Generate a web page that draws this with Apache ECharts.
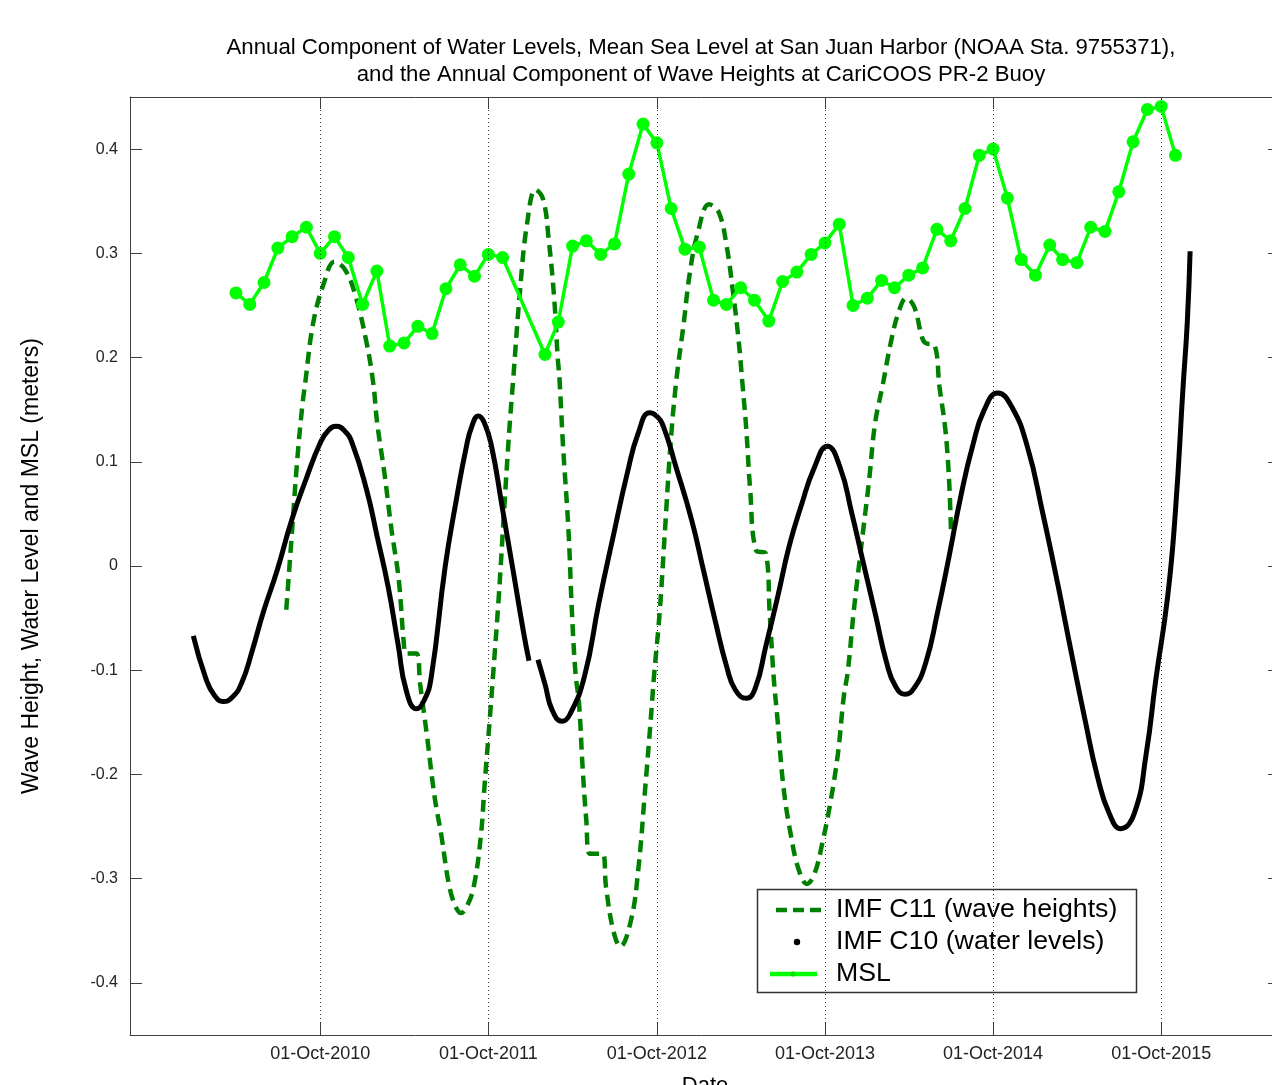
<!DOCTYPE html>
<html>
<head>
<meta charset="utf-8">
<script src="https://cdn.jsdelivr.net/npm/echarts@6/dist/echarts.min.js"></script>
<style>
html,body{margin:0;padding:0;background:#fff;}
#chart{width:1272px;height:1085px;}
</style>
</head>
<body>
<div id="chart"></div>
<script>
// ---------------- DATA ----------------
const titleLines = [
  'Annual Component of Water Levels, Mean Sea Level at San Juan Harbor (NOAA Sta. 9755371),',
  'and the Annual Component of Wave Heights at CariCOOS PR-2 Buoy'
];
const xAxisName = 'Date';
const yAxisName = 'Wave Height, Water Level and MSL (meters)';
const xRange = ['2009-08-14', '2016-06-15'];
const xTickDates = ['2010-10-01', '2011-10-01', '2012-10-01', '2013-10-01', '2014-10-01', '2015-10-01'];
const yTicks = [-0.4, -0.3, -0.2, -0.1, 0, 0.1, 0.2, 0.3, 0.4];
const yRange = [-0.45, 0.45];
const seriesNames = ['IMF C11 (wave heights)', 'IMF C10 (water levels)', 'MSL'];

// MSL (monthly)
const mslDates = [
  '2010-04-01','2010-05-01','2010-06-01','2010-07-01','2010-08-01','2010-09-01','2010-10-01','2010-11-01','2010-12-01',
  '2011-01-01','2011-02-01','2011-03-01','2011-04-01','2011-05-01','2011-06-01','2011-07-01','2011-08-01','2011-09-01','2011-10-01','2011-11-01',
  '2012-02-01','2012-03-01','2012-04-01','2012-05-01','2012-06-01','2012-07-01','2012-08-01','2012-09-01','2012-10-01','2012-11-01','2012-12-01',
  '2013-01-01','2013-02-01','2013-03-01','2013-04-01','2013-05-01','2013-06-01','2013-07-01','2013-08-01','2013-09-01','2013-10-01','2013-11-01','2013-12-01',
  '2014-01-01','2014-02-01','2014-03-01','2014-04-01','2014-05-01','2014-06-01','2014-07-01','2014-08-01','2014-09-01','2014-10-01','2014-11-01','2014-12-01',
  '2015-01-01','2015-02-01','2015-03-01','2015-04-01','2015-05-01','2015-06-01','2015-07-01','2015-08-01','2015-09-01','2015-10-01','2015-11-01'
];
const mslValues = [
  0.262,0.251,0.272,0.305,0.316,0.325,0.300,0.316,0.296,
  0.251,0.283,0.211,0.214,0.230,0.223,0.266,0.289,0.278,0.299,0.296,
  0.203,0.234,0.307,0.312,0.299,0.309,0.376,0.424,0.406,0.343,0.304,
  0.306,0.255,0.251,0.267,0.255,0.235,0.273,0.282,0.299,0.310,0.328,0.250,
  0.257,0.274,0.267,0.279,0.286,0.323,0.312,0.343,0.394,0.400,0.353,0.294,
  0.279,0.308,0.294,0.291,0.325,0.321,0.359,0.407,0.438,0.441,0.394
];

// IMF C10 (water levels) - decimal years
const c10Years = [
  2009.993,2010.068,2010.118,2010.171,2010.225,2010.281,2010.344,2010.408,2010.492,2010.578,
  2010.663,2010.748,2010.796,2010.843,2010.891,2010.938,2011.024,2011.087,2011.152,2011.212,
  2011.259,2011.321,2011.366,2011.408,2011.491,2011.555,2011.618,2011.652,2011.688,2011.723,
  2011.767,2011.830,2011.895,2011.958,2011.990,2012.017,2012.043,2012.086,2012.127,2012.186,
  2012.234,2012.319,2012.404,2012.489,2012.573,2012.639,2012.706,2012.746,2012.787,2012.862,
  2012.955,2013.025,2013.094,2013.164,2013.215,2013.280,2013.334,2013.396,2013.466,2013.535,
  2013.605,2013.686,2013.762,2013.837,2013.907,2013.976,2014.046,2014.115,2014.166,2014.224,
  2014.279,2014.347,2014.417,2014.486,2014.556,2014.626,2014.696,2014.776,2014.858,2014.951,
  2015.043,2015.136,2015.206,2015.298,2015.369,2015.438,2015.508,2015.589,2015.659,2015.716,
  2015.786,2015.832,2015.879,2015.903,2015.920
];
const c10Values = [
  -0.067,-0.108,-0.124,-0.130,-0.126,-0.112,-0.081,-0.045,-0.004,0.044,
  0.083,0.118,0.130,0.134,0.130,0.118,0.073,0.028,-0.020,-0.076,
  -0.119,-0.137,-0.129,-0.107,-0.001,0.061,0.115,0.135,0.144,0.138,
  0.115,0.057,-0.004,-0.064,-0.091,null,-0.090,-0.114,-0.138,-0.149,
  -0.142,-0.106,-0.036,0.028,0.089,0.128,0.147,0.144,0.134,0.095,
  0.044,-0.004,-0.052,-0.097,-0.119,-0.127,-0.117,-0.077,-0.030,0.019,
  0.057,0.095,0.115,0.095,0.051,0.003,-0.045,-0.093,-0.115,-0.123,
  -0.117,-0.093,-0.045,0.009,0.067,0.115,0.150,0.166,0.153,0.115,
  0.051,-0.020,-0.077,-0.150,-0.202,-0.237,-0.252,-0.237,-0.180,-0.109,
  -0.030,0.051,0.174,0.233,0.302
];

// IMF C11 (wave heights) - decimal years
const c11Years = [
  2010.546,2010.578,2010.610,2010.641,2010.659,2010.706,2010.769,2010.833,2010.897,2010.960,
  2011.024,2011.063,2011.087,2011.130,2011.172,2011.215,2011.247,2011.259,2011.319,2011.342,
  2011.384,2011.428,2011.470,2011.513,2011.551,2011.586,2011.622,2011.661,2011.703,2011.725,
  2011.756,2011.778,2011.810,2011.841,2011.873,2011.895,2011.937,2011.979,2012.029,2012.075,
  2012.107,2012.139,2012.160,2012.171,2012.192,2012.224,2012.245,2012.266,2012.287,2012.309,
  2012.330,2012.351,2012.425,2012.447,2012.489,2012.532,2012.595,2012.638,2012.680,2012.712,
  2012.733,2012.765,2012.797,2012.829,2012.862,2012.908,2012.944,2012.990,2013.059,2013.117,
  2013.164,2013.199,2013.234,2013.257,2013.280,2013.303,2013.338,2013.396,2013.419,2013.442,
  2013.466,2013.501,2013.547,2013.593,2013.640,2013.686,2013.732,2013.779,2013.825,2013.860,
  2013.884,2013.918,2013.964,2014.011,2014.046,2014.092,2014.139,2014.185,2014.231,2014.278,
  2014.324,2014.345,2014.398,2014.429,2014.464,2014.486,2014.498
];
const c11Values = [
  -0.042,0.028,0.099,0.153,0.176,0.233,0.271,0.292,0.284,0.258,
  0.214,0.176,0.137,0.089,0.035,-0.013,-0.077,-0.084,-0.084,-0.113,
  -0.164,-0.221,-0.260,-0.305,-0.326,-0.333,-0.326,-0.308,-0.260,-0.212,
  -0.148,-0.101,-0.030,0.051,0.131,0.177,0.265,0.329,0.361,0.351,
  0.313,0.258,0.201,0.179,0.115,0.035,-0.045,-0.103,-0.132,-0.196,
  -0.244,-0.276,-0.276,-0.308,-0.349,-0.365,-0.340,-0.292,-0.212,-0.148,
  -0.103,-0.045,0.035,0.115,0.175,0.233,0.281,0.319,0.347,0.339,
  0.306,0.265,0.217,0.175,0.131,0.073,0.015,0.012,-0.045,-0.105,
  -0.148,-0.212,-0.260,-0.292,-0.305,-0.295,-0.266,-0.228,-0.180,-0.125,
  -0.101,-0.045,0.019,0.083,0.137,0.174,0.214,0.243,0.257,0.249,
  0.220,0.214,0.212,0.172,0.131,0.083,0.031
];

// ---------------- BUILD ----------------
const FONT = '"Liberation Sans", Arial, Helvetica, sans-serif';
function decYearToTs(y) {
  const yr = Math.floor(y);
  const a = Date.UTC(yr, 0, 1), b = Date.UTC(yr + 1, 0, 1);
  return a + (y - yr) * (b - a);
}
const MON = ['Jan','Feb','Mar','Apr','May','Jun','Jul','Aug','Sep','Oct','Nov','Dec'];
function fmtDate(ts) {
  const d = new Date(ts);
  const dd = String(d.getUTCDate()).padStart(2, '0');
  return dd + '-' + MON[d.getUTCMonth()] + '-' + d.getUTCFullYear();
}
const xTicks = xTickDates.map(s => Date.parse(s));
const xMin = Date.parse(xRange[0]), xMax = Date.parse(xRange[1]);

const mslData = mslDates.map((d, i) => [Date.parse(d), mslValues[i]]);
const c10Data = c10Years.map((y, i) => [decYearToTs(y), c10Values[i] == null ? '-' : c10Values[i]]);
const c11Data = c11Years.map((y, i) => [decYearToTs(y), c11Values[i]]);

const chart = echarts.init(document.getElementById('chart'), null, {renderer: 'canvas'});

const axisLineStyle = {color: '#404040', width: 1};

const option = {
  animation: false,
  backgroundColor: '#fff',
  title: {
    text: titleLines.join('\n'),
    left: 701,
    top: 34,
    textAlign: 'center',
    padding: 0,
    textStyle: {fontFamily: FONT, fontSize: 22.2, fontWeight: 'normal', color: '#000', lineHeight: 27}
  },
  grid: {left: 130, top: 97, width: 1150, height: 938, containLabel: false, outerBoundsMode: 'none',
         show: false},
  xAxis: [{
    type: 'value', min: xMin, max: xMax, position: 'bottom',
    name: xAxisName, nameLocation: 'middle', nameGap: 40,
    nameTextStyle: {fontFamily: FONT, fontSize: 22, color: '#000'},
    axisLine: {show: true, onZero: false, lineStyle: axisLineStyle},
    axisTick: {show: true, inside: true, length: 12, customValues: xTicks, lineStyle: axisLineStyle},
    axisLabel: {show: true, customValues: xTicks, formatter: v => fmtDate(v), margin: 10,
                fontFamily: FONT, fontSize: 18, color: '#222'},
    splitLine: {show: false}
  }, {
    type: 'value', min: xMin, max: xMax, position: 'top',
    axisLine: {show: true, onZero: false, lineStyle: axisLineStyle},
    axisTick: {show: true, inside: true, length: 12, customValues: xTicks, lineStyle: axisLineStyle},
    axisLabel: {show: false},
    splitLine: {show: false}
  }],
  yAxis: [{
    type: 'value', min: yRange[0], max: yRange[1], position: 'left',
    name: yAxisName, nameLocation: 'middle', nameGap: 87,
    nameTextStyle: {fontFamily: FONT, fontSize: 23, color: '#000'},
    axisLine: {show: true, onZero: false, lineStyle: axisLineStyle},
    axisTick: {show: true, inside: true, length: 12, customValues: yTicks, lineStyle: axisLineStyle},
    axisLabel: {show: true, customValues: yTicks, margin: 12,
                formatter: v => (Math.abs(v) < 1e-9 ? '0' : v.toFixed(1)),
                fontFamily: FONT, fontSize: 16, color: '#222'},
    splitLine: {show: false}
  }, {
    type: 'value', min: yRange[0], max: yRange[1], position: 'right',
    axisLine: {show: true, onZero: false, lineStyle: axisLineStyle},
    axisTick: {show: true, inside: true, length: 12, customValues: yTicks, lineStyle: axisLineStyle},
    axisLabel: {show: false},
    splitLine: {show: false}
  }],
  series: [{
    name: seriesNames[0], type: 'line', data: c11Data, xAxisIndex: 0, yAxisIndex: 0,
    symbol: 'none', smooth: 0.4, z: 2,
    lineStyle: {color: '#008000', width: 4.5, type: [12, 7]},
    markLine: {
      silent: true, symbol: ['none', 'none'], label: {show: false},
      lineStyle: {color: '#333', width: 1, type: [1, 3]},
      emphasis: {disabled: true},
      data: xTicks.map(t => ({xAxis: t}))
    }
  }, {
    name: seriesNames[1], type: 'line', data: c10Data, xAxisIndex: 0, yAxisIndex: 0,
    symbol: 'none', smooth: 0.5, connectNulls: false, z: 3,
    lineStyle: {color: '#000', width: 5}
  }, {
    name: seriesNames[2], type: 'line', data: mslData, xAxisIndex: 0, yAxisIndex: 0,
    symbol: 'circle', symbolSize: 13, showSymbol: true, z: 4,
    itemStyle: {color: '#00ff00'},
    lineStyle: {color: '#00ff00', width: 3.5}
  }],
  graphic: [{
    type: 'group', z: 100,
    children: [
      {type: 'rect', shape: {x: 757.5, y: 889.5, width: 379, height: 103},
       style: {fill: '#fff', stroke: '#333', lineWidth: 1.5}},
      {type: 'line', shape: {x1: 776, y1: 910, x2: 822, y2: 910},
       style: {stroke: '#008000', lineWidth: 4.5, lineDash: [11, 6]}},
      {type: 'text', x: 836, y: 910,
       style: {text: seriesNames[0], fill: '#000', font: '26.7px ' + FONT, textVerticalAlign: 'middle', verticalAlign: 'middle'}},
      {type: 'circle', shape: {cx: 797, cy: 942, r: 3.2}, style: {fill: '#000'}},
      {type: 'text', x: 836, y: 942,
       style: {text: seriesNames[1], fill: '#000', font: '26.7px ' + FONT, textVerticalAlign: 'middle', verticalAlign: 'middle'}},
      {type: 'line', shape: {x1: 770, y1: 974, x2: 817, y2: 974},
       style: {stroke: '#00ff00', lineWidth: 4.5}},
      {type: 'circle', shape: {cx: 793, cy: 974, r: 2.5}, style: {fill: '#00dd00'}},
      {type: 'text', x: 836, y: 974,
       style: {text: seriesNames[2], fill: '#000', font: '26.7px ' + FONT, textVerticalAlign: 'middle', verticalAlign: 'middle'}}
    ]
  }]
};
chart.setOption(option);
</script>
</body>
</html>
